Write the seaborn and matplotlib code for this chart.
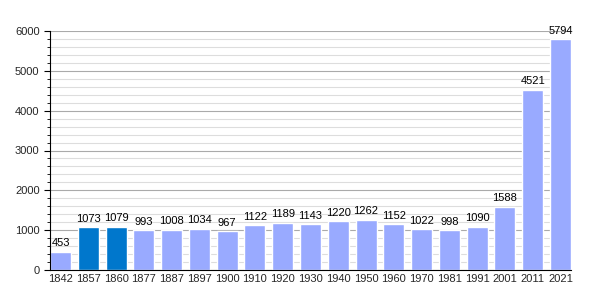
import matplotlib
matplotlib.use("Agg")
import matplotlib.pyplot as plt
import seaborn as sns
import pandas as pd
from matplotlib.ticker import MultipleLocator

years = ["1842", "1857", "1860", "1877", "1887", "1897", "1900", "1910", "1920", "1930",
         "1940", "1950", "1960", "1970", "1981", "1991", "2001", "2011", "2021"]
population = [453, 1073, 1079, 993, 1008, 1034, 967, 1122, 1189, 1143,
              1220, 1262, 1152, 1022, 998, 1090, 1588, 4521, 5794]
highlight = ["1857", "1860"]

df = pd.DataFrame({"year": years, "pop": population})
df["kind"] = ["dark" if y in highlight else "light" for y in years]

sns.set_style("white")
plt.rcParams['font.family'] = ['Liberation Sans', 'DejaVu Sans']

fig = plt.figure(figsize=(6, 3), dpi=100)
ax = fig.add_axes([50/600, 30/300, 521/600, 239/300])

palette = {"light": "#99aaff", "dark": "#0077cc"}
sns.barplot(data=df, x="year", y="pop", hue="kind", palette=palette, dodge=False,
            width=0.755, legend=False, ax=ax, saturation=1)

ax.set_ylim(0, 6000)
ax.set_xlim(-0.38, len(years) - 1 + 0.38)
ax.yaxis.set_major_locator(MultipleLocator(1000))
ax.yaxis.set_minor_locator(MultipleLocator(200))
ax.grid(which="major", axis="y", color="#aaaaaa", linewidth=0.8)
ax.grid(which="minor", axis="y", color="#dddddd", linewidth=0.8)
ax.set_axisbelow(True)
for s in ["top", "right"]:
    ax.spines[s].set_visible(False)
ax.spines["left"].set_color("black")
ax.spines["bottom"].set_color("black")
ax.tick_params(axis="y", which="major", length=4, color="black", labelsize=8, left=True)
ax.tick_params(axis="y", which="minor", length=2, color="black", left=True)
ax.tick_params(axis="x", length=0, labelsize=8, pad=3)
ax.set_xlabel("")
ax.set_ylabel("")

for i, v in enumerate(population):
    ax.text(i, v + 90, str(v), ha="center", va="bottom", fontsize=8, color="black")

fig.savefig("out.png", dpi=100)
